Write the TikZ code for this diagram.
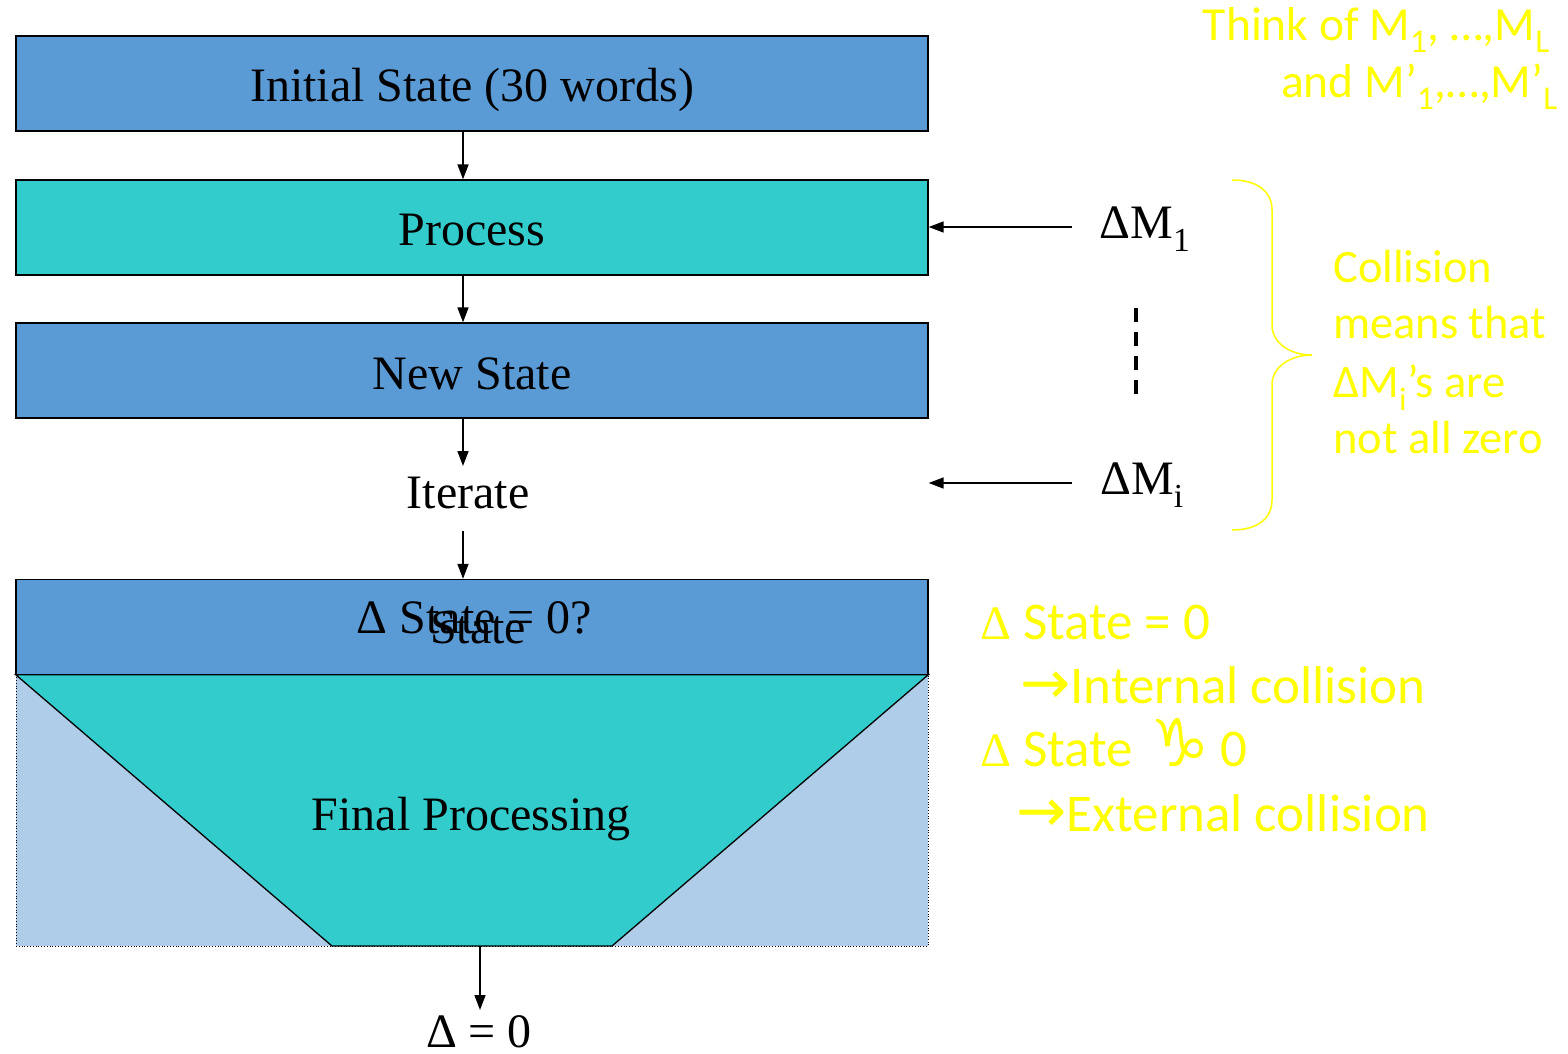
\documentclass[tikz,border=0pt]{standalone}
\usepackage{fontspec}
\setmainfont{Liberation Serif}
\newfontfamily\carl{Carlito}
\newfontfamily\djv{DejaVu Sans}
\usetikzlibrary{arrows.meta}
\definecolor{boxblue}{RGB}{91,155,213}
\definecolor{boxteal}{RGB}{51,204,204}
\definecolor{paleblue}{RGB}{175,205,233}
\definecolor{hiyellow}{RGB}{255,255,0}
\begin{document}
\begin{tikzpicture}[x=1pt,y=-1pt,
  bigtxt/.style={font=\fontsize{48}{56}\selectfont, inner sep=0pt},
  blk/.style={draw, line width=1.3pt, minimum width=912pt, minimum height=95pt, inner sep=0pt},
  arr/.style={line width=1.6pt, -{Triangle[length=15pt,width=11pt]}},
  ytxt/.style={text=hiyellow, font=\carl\fontsize{46.5}{56}\selectfont, inner sep=0pt, anchor=base west},
  ytxtb/.style={text=hiyellow, font=\carl\fontsize{53}{60}\selectfont, inner sep=0pt, anchor=base west},
]
\useasboundingbox (0,0) rectangle (1568,1053);
\fill[white] (0,0) rectangle (1568,1053);

% boxes
\node[blk, fill=boxblue] (init) at (472,83.5) {};
\node[blk, fill=boxteal] (proc) at (472,227.5) {};
\node[blk, fill=boxblue] (new) at (472,370.5) {};
\node[draw, dotted, line width=0.8pt, fill=paleblue, minimum width=912pt, minimum height=271pt, inner sep=0pt] (fin) at (472,810.5) {};
\draw[line width=1.3pt, fill=boxteal] (fin.north west) -- (fin.north east) -- (612,946) -- (332,946) -- cycle;
\node[blk, fill=boxblue] (dstate) at (472,627) {};

% box texts
\node[bigtxt, anchor=base] (tinit) at (472,101) {Initial State (30 words)};
\node[bigtxt, anchor=base] (tproc) at (472,245) {Process};
\node[bigtxt, anchor=base] (tnew) at (472,389) {New State};
\node[bigtxt, anchor=base] (iter) at (468,508) {Iterate};
\node[bigtxt, anchor=base] (tdq) at (474.5,633) {Δ State = 0?};
\node[bigtxt, anchor=base] (tdq2) at (478,643) {State};
\node[bigtxt, anchor=base] (tfin) at (471,830) {Final Processing};
\node[bigtxt, anchor=base] (out) at (479,1047) {Δ = 0};

% vertical arrows
\coordinate (ax) at (463,0);
\coordinate (itop) at (463,466);
\coordinate (ibot) at (463,531);
\coordinate (ox) at (480,0);
\draw[arr] (init.south -| ax) -- (proc.north -| ax);
\draw[arr] (proc.south -| ax) -- (new.north -| ax);
\draw[arr] (new.south -| ax) -- (itop);
\draw[arr] (ibot) -- (dstate.north -| ax);
\coordinate (otip) at (480,1010);
\draw[arr] (fin.south -| ox) -- (otip);

% Delta M inputs
\node[bigtxt, anchor=base] (dm1) at (1145,238) {ΔM\textsubscript{1}};
\node[bigtxt, anchor=base] (dmi) at (1142,494) {ΔM\textsubscript{i}};
\coordinate (s1) at (1072,227);
\coordinate (s2) at (1072,483);
\draw[arr] (s1) -- (s1 -| proc.east);
\draw[arr] (s2) -- (s2 -| proc.east);
\coordinate (d1) at (1136,308);
\coordinate (d2) at (1136,402);
\draw[line width=3.5pt, dash pattern=on 14pt off 10pt] (d1) -- (d2);

% brace
\draw[hiyellow, line width=1.5pt] (1232,180) .. controls (1258,180) and (1272,192) .. (1272,210) -- (1272,325)
  .. controls (1272,343) and (1290,355) .. (1312,355)
  .. controls (1290,355) and (1272,367) .. (1272,385) -- (1272,500)
  .. controls (1272,518) and (1258,530) .. (1232,530);

% yellow texts
\node[ytxt, anchor=base east, font=\carl\fontsize{47.5}{56}\selectfont] (th1) at (1550,40) {Think of M\textsubscript{1}, \dots,M\textsubscript{L}};
\node[ytxt, anchor=base east, font=\carl\fontsize{47.5}{56}\selectfont] (th2) at (1558,97) {and M’\textsubscript{1},\dots,M’\textsubscript{L}};
\node[ytxt] (c1) at (1333,282) {Collision};
\node[ytxt] (c2) at (1333,338) {means that};
\node[ytxt] (c3) at (1333,397) {ΔM\textsubscript{i}’s are};
\node[ytxt] (c4) at (1333,453) {not all zero};
\node[ytxtb] (b1) at (980,639) {{\rmfamily\fontsize{48}{56}\selectfont Δ} State = 0};
\node[ytxtb] (b2) at (1020,703) {{\djv\fontsize{60}{60}\selectfont →}Internal collision};
\node[ytxtb] (b3) at (980,766) {{\rmfamily\fontsize{48}{56}\selectfont Δ} State\hspace{18pt}{\djv\fontsize{66}{66}\selectfont ♑}\hspace{10pt}0};
\node[ytxtb] (b4) at (1016,831) {{\djv\fontsize{60}{60}\selectfont →}External collision};
\end{tikzpicture}
\end{document}
